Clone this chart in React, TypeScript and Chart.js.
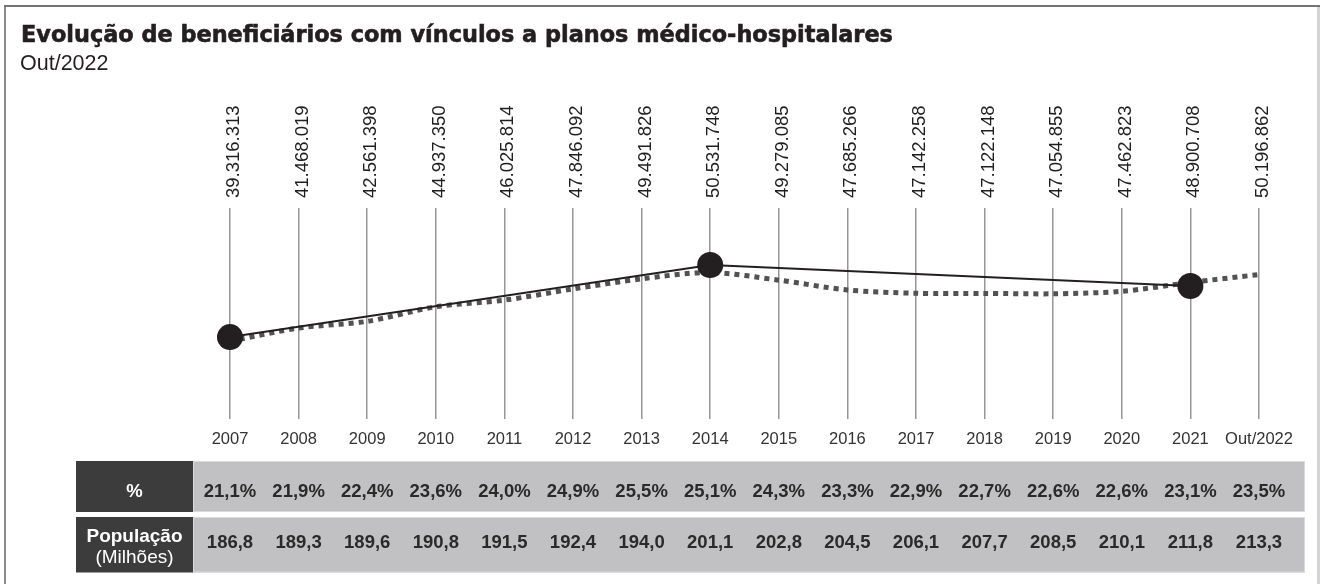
import React, { useEffect, useRef } from "react";
import { Chart, registerables } from "chart.js";

Chart.register(...registerables);

// ---------- data ----------
const categories = [
  "2007", "2008", "2009", "2010", "2011", "2012", "2013", "2014",
  "2015", "2016", "2017", "2018", "2019", "2020", "2021", "Out/2022",
];

// beneficiaries with links to medical-hospital plans
const beneficiaries = [
  39316313, 41468019, 42561398, 44937350, 46025814, 47846092, 49491826, 50531748,
  49279085, 47685266, 47142258, 47122148, 47054855, 47462823, 48900708, 50196862,
];

// solid trend line (millions): 2007, 2014, 2021
const trendValues: (number | null)[] = [
  39.99, null, null, null, null, null, null, 51.75,
  null, null, null, null, null, null, 48.33, null,
];

// coverage rate (%)
const coveragePercent = [
  21.1, 21.9, 22.4, 23.6, 24.0, 24.9, 25.5, 25.1,
  24.3, 23.3, 22.9, 22.7, 22.6, 22.6, 23.1, 23.5,
];

// population (millions)
const population = [
  186.8, 189.3, 189.6, 190.8, 191.5, 192.4, 194.0, 201.1,
  202.8, 204.5, 206.1, 207.7, 208.5, 210.1, 211.8, 213.3,
];

const TITLE = "Evolução de beneficiários com vínculos a planos médico-hospitalares";
const SUBTITLE = "Out/2022";

// ---------- helpers ----------
const fmtInt = (n: number) => String(n).replace(/\B(?=(\d{3})+(?!\d))/g, ".");
const fmtDec = (n: number) => n.toFixed(1).replace(".", ",");

const SANS = "'Liberation Sans', Arial, sans-serif";

const infographic = {
  id: "infographic",
  beforeDraw(chart: any) {
    const ctx = chart.ctx as CanvasRenderingContext2D;
    const w = chart.width;
    const h = chart.height;
    ctx.save();
    ctx.fillStyle = "#ffffff";
    ctx.fillRect(0, 0, w, h);
    // frame
    ctx.fillStyle = "#8a8a8a";
    ctx.fillRect(4, 5, 2, h - 5);
    ctx.fillStyle = "#d4d4d4";
    ctx.fillRect(1317, 5, 3, h - 5);
    ctx.fillStyle = "#747474";
    ctx.fillRect(4, 5, 1316, 2);
    ctx.restore();
  },
  afterDraw(chart: any) {
    const ctx = chart.ctx as CanvasRenderingContext2D;
    const xs = chart.scales.x;
    ctx.save();

    // title & subtitle
    ctx.fillStyle = "#231f20";
    ctx.strokeStyle = "#231f20";
    ctx.textAlign = "left";
    ctx.textBaseline = "alphabetic";
    ctx.font = "bold 22.4px 'DejaVu Sans', sans-serif";
    ctx.fillText(TITLE, 21, 42);
    ctx.lineWidth = 0.6;
    ctx.strokeText(TITLE, 21, 42);
    ctx.font = `21.5px ${SANS}`;
    ctx.fillText(SUBTITLE, 20, 70);

    // rotated value labels at top
    ctx.font = `18.5px ${SANS}`;
    ctx.fillStyle = "#1f1f1f";
    beneficiaries.forEach((v, i) => {
      const x = xs.getPixelForValue(i) + 4;
      ctx.save();
      ctx.translate(x, 198);
      ctx.rotate(-Math.PI / 2);
      ctx.textAlign = "left";
      ctx.textBaseline = "middle";
      ctx.fillText(fmtInt(v), 0, 0);
      ctx.restore();
    });

    // table
    const darkX = 76, darkW = 117;
    const lightX = 193, lightW = 1112;
    const r1y = 461, r1h = 51;
    const r2y = 517, r2h = 55.5;
    ctx.fillStyle = "#3c3c3c";
    ctx.fillRect(darkX, r1y, darkW, r1h);
    ctx.fillRect(darkX, r2y, darkW, r2h);
    ctx.fillStyle = "#c1c1c3";
    ctx.fillRect(lightX, r1y, lightW, r1h);
    ctx.fillRect(lightX, r2y, lightW, r2h);
    ctx.strokeStyle = "#dadadc";
    ctx.lineWidth = 1;
    ctx.strokeRect(lightX + 0.5, r1y + 0.5, lightW - 1, r1h - 1);
    ctx.strokeRect(lightX + 0.5, r2y + 0.5, lightW - 1, r2h - 1);

    ctx.textAlign = "center";
    ctx.textBaseline = "alphabetic";
    ctx.fillStyle = "#ffffff";
    const hx = darkX + darkW / 2;
    ctx.font = `bold 18.5px ${SANS}`;
    ctx.fillText("%", hx, 496.5);
    ctx.font = `bold 19px ${SANS}`;
    ctx.fillText("População", hx, 541.5);
    ctx.font = `19px ${SANS}`;
    ctx.fillText("(Milhões)", hx, 562.5);

    ctx.fillStyle = "#2a2a2a";
    ctx.font = `bold 18.5px ${SANS}`;
    coveragePercent.forEach((p, i) => {
      ctx.fillText(fmtDec(p) + "%", xs.getPixelForValue(i), 496.5);
    });
    population.forEach((p, i) => {
      ctx.fillText(fmtDec(p), xs.getPixelForValue(i), 547.5);
    });

    ctx.restore();
  },
};

export default function App() {
  const canvasRef = useRef<HTMLCanvasElement | null>(null);

  useEffect(() => {
    if (!canvasRef.current) return;
    const chart = new Chart(canvasRef.current, {
      type: "line",
      data: {
        labels: categories,
        datasets: [
          {
            label: "Tendência",
            data: trendValues,
            borderColor: "#231f20",
            borderWidth: 2,
            pointRadius: 13,
            pointHoverRadius: 13,
            pointBackgroundColor: "#231f20",
            pointBorderWidth: 0,
            spanGaps: true,
            tension: 0,
            clip: false,
          } as any,
          {
            label: "Beneficiários (milhões)",
            data: beneficiaries.map((v) => v / 1e6),
            borderColor: "#525252",
            borderWidth: 5,
            borderDash: [5, 5],
            borderCapStyle: "butt",
            pointRadius: 0,
            tension: 0.3,
            clip: false,
          } as any,
        ],
      },
      options: {
        responsive: false,
        animation: false,
        devicePixelRatio: 1,
        layout: { padding: { left: 230, right: 66, top: 208, bottom: 125 } },
        plugins: {
          legend: { display: false },
          tooltip: { enabled: false },
          title: { display: false },
        },
        scales: {
          x: {
            offset: false,
            grid: { color: "#969696", lineWidth: 1.5, drawTicks: false },
            border: { display: false },
            ticks: {
              color: "#333333",
              font: { family: SANS, size: 16.5 },
              padding: 10,
              maxRotation: 0,
              minRotation: 0,
              autoSkip: false,
            },
          },
          y: { display: false, min: 26.6, max: 61.05 },
        },
      },
      plugins: [infographic],
    });
    return () => chart.destroy();
  }, []);

  return (
    <div style={{ position: "fixed", left: 0, top: 0, width: 1325, height: 584, background: "#fff" }}>
      <canvas ref={canvasRef} width={1325} height={584} style={{ display: "block" }} />
    </div>
  );
}
